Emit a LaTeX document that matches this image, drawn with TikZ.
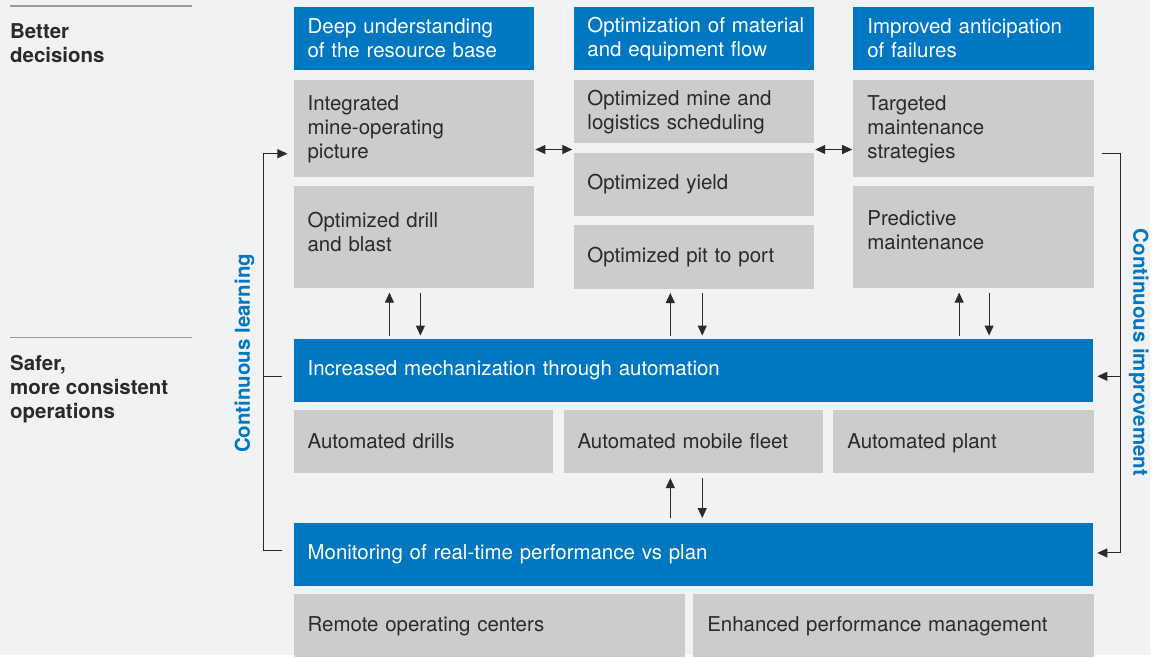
\documentclass[tikz,border=0pt]{standalone}
\usepackage{fontspec}
\setmainfont{TeX Gyre Heros}
\usetikzlibrary{positioning,arrows.meta}
\definecolor{mckblue}{HTML}{0077C1}
\definecolor{boxgray}{HTML}{CBCCCE}
\definecolor{pagebg}{HTML}{F1F2F4}
\definecolor{inkgray}{HTML}{2A2A2A}
\definecolor{rulegray}{HTML}{9A9A9A}
\hyphenpenalty=10000

\begin{document}
\begin{tikzpicture}[x=1pt, y=-1pt,
    box/.style={rectangle, inner xsep=14pt, inner ysep=0pt, align=left, minimum height=63pt, text width=213pt, font=\fontsize{20.5}{24}\selectfont},
    bluebox/.style={box, fill=mckblue, text=white},
    graybox/.style={box, fill=boxgray, text=inkgray},
    arr/.style={draw=inkgray, line width=1pt, -{Triangle[length=10pt,width=9pt]}},
    dblarr/.style={draw=inkgray, line width=1pt, {Triangle[length=10pt,width=9pt]}-{Triangle[length=10pt,width=9pt]}},
    link/.style={draw=inkgray, line width=1pt},
    side/.style={font=\bfseries\fontsize{20.5}{24}\selectfont, text=mckblue},
    tag/.style={font=\bfseries\fontsize{20.5}{24}\selectfont, text=inkgray, align=left, inner sep=0pt, anchor=north west}]

    % Background
    \fill[pagebg] (0,0) rectangle (1152,656);

    % Left tags
    \draw[rulegray, line width=1.3pt] (10,6) -- (192,6);
    \node[tag] (better) at (10,23) {Better\\decisions};
    \draw[rulegray, line width=1.3pt] (10,338) -- (192,338);
    \node[tag] (safer) at (10,356) {Safer,\\more consistent\\operations};

    % Top columns
    \node[bluebox, anchor=north west] (under) at (294,7) {Deep understanding\\of the resource base};
    \node[bluebox, right=39pt of under] (matflow) {\mbox{Optimization of material}\\and equipment flow};
    \node[bluebox, right=39pt of matflow] (fail) {Improved anticipation\\of failures};

    \node[graybox, minimum height=97pt, below=10pt of under] (opspic) {Integrated\\mine-operating\\picture};
    \node[graybox, minimum height=103pt, text depth=35pt, below=8pt of opspic] (drill) {Optimized drill\\and blast};

    \node[graybox, below=10pt of matflow] (sched) {Optimized mine and\\logistics scheduling};
    \node[graybox, below=9pt of sched] (yield) {Optimized yield};
    \node[graybox, minimum height=64pt, below=9pt of yield] (pit) {Optimized pit to port};

    \node[graybox, minimum height=97pt, below=10pt of fail] (maint) {Targeted\\maintenance\\strategies};
    \node[graybox, minimum height=103pt, text depth=39pt, below=8pt of maint] (predict) {Predictive\\maintenance};

    % Automation band
    \node[bluebox, text width=773pt, below right=50pt and 0pt of drill.south west] (mech) {Increased mechanization through automation};
    \node[graybox, text width=232pt, text depth=0pt, below right=8pt and 0pt of mech.south west] (drills) {Automated drills};
    \node[graybox, text width=232pt, text depth=0pt, right=10pt of drills] (fleet) {Automated mobile fleet};
    \node[graybox, text width=233pt, text depth=0pt, right=10pt of fleet] (plant) {Automated plant};

    % Monitoring band
    \node[bluebox, text width=773pt, below right=50pt and 0pt of drills.south west] (monitor) {Monitoring of real-time performance vs plan};
    \node[graybox, text width=364pt, below right=8pt and 0pt of monitor.south west] (remote) {Remote operating centers};
    \node[graybox, text width=373pt, right=8pt of remote] (perf) {Enhanced performance management};

    % Links between columns
    \coordinate (lk) at ([yshift=3pt]yield.north);
    \draw[dblarr, shorten <=1pt, shorten >=1pt] (opspic.east |- lk) -- (sched.west |- lk);
    \draw[dblarr, shorten <=1pt, shorten >=1pt] (sched.east |- lk) -- (maint.west |- lk);

    % Up and down arrows
    \coordinate (a1) at ([xshift=-24.5pt]drill.south);
    \coordinate (b1) at ([xshift=6.5pt]drill.south);
    \coordinate (a2) at ([xshift=-23.5pt]pit.south);
    \coordinate (b2) at ([xshift=8.5pt]pit.south);
    \coordinate (a3) at ([xshift=-14.5pt]predict.south);
    \coordinate (b3) at ([xshift=15.5pt]predict.south);
    \draw[arr, shorten <=3pt, shorten >=4pt] (a1 |- mech.north) -- (a1);
    \draw[arr, shorten <=4pt, shorten >=3pt] (b1) -- (b1 |- mech.north);
    \draw[arr, shorten <=3pt, shorten >=4pt] (a2 |- mech.north) -- (a2);
    \draw[arr, shorten <=4pt, shorten >=3pt] (b2) -- (b2 |- mech.north);
    \draw[arr, shorten <=3pt, shorten >=4pt] (a3 |- mech.north) -- (a3);
    \draw[arr, shorten <=4pt, shorten >=3pt] (b3) -- (b3 |- mech.north);
    \coordinate (a4) at ([xshift=-23pt]fleet.south);
    \coordinate (b4) at ([xshift=9pt]fleet.south);
    \draw[arr, shorten <=5pt, shorten >=5pt] (a4 |- monitor.north) -- (a4);
    \draw[arr, shorten <=5pt, shorten >=5pt] (b4) -- (b4 |- monitor.north);

    % Continuous learning loop
    \coordinate (lt) at (264,154);
    \coordinate (lm) at (264,377);
    \coordinate (lb) at (264,552);
    \draw[arr, shorten <=11pt, shorten >=6pt] (monitor.west |- lb) -- (lb) -- (lt) -- (opspic.west |- lt);
    \draw[link, shorten >=11pt] (lm) -- (mech.west |- lm);
    \node[side, rotate=90] (learn) at (245,354) {Continuous learning};

    % Continuous improvement loop
    \coordinate (rt) at (1123,154);
    \coordinate (rm) at (1123,377);
    \coordinate (rb) at (1123,554);
    \draw[arr, shorten <=8pt, shorten >=4pt] (maint.east |- rt) -- (rt) -- (rb) -- (monitor.east |- rb);
    \draw[arr, shorten >=4pt] (rm) -- (mech.east |- rm);
    \node[side, rotate=-90] (improve) at (1141,353) {Continuous improvement};

\end{tikzpicture}
\end{document}
